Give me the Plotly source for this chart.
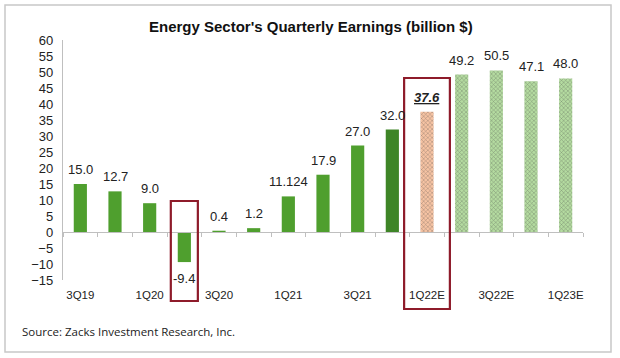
import plotly.graph_objects as go

quarters = ["3Q19", "4Q19", "1Q20", "2Q20", "3Q20", "4Q20", "1Q21", "2Q21", "3Q21",
            "4Q21", "1Q22E", "2Q22E", "3Q22E", "4Q22E", "1Q23E"]
earnings = [15.0, 12.7, 9.0, -9.4, 0.4, 1.2, 11.124, 17.9, 27.0, 32.0, 37.6, 49.2, 50.5, 47.1, 48.0]
value_labels = ["15.0", "12.7", "9.0", "-9.4", "0.4", "1.2", "11.124", "17.9", "27.0", "32.0",
                "<b><i><u>37.6</u></i></b>", "49.2", "50.5", "47.1", "48.0"]
shown_ticks = ["3Q19", "1Q20", "3Q20", "1Q21", "3Q21", "1Q22E", "3Q22E", "1Q23E"]
highlighted = ["2Q20", "1Q22E"]

colors, fg, shapes_p = [], [], []
for q in quarters:
    if q == "1Q22E":
        colors.append("#f6c3a3"); fg.append("#eea47a"); shapes_p.append("x")
    elif q.endswith("E"):
        colors.append("#b4dba0"); fg.append("#93c97b"); shapes_p.append("x")
    elif q == "4Q21":
        colors.append("#3e8527"); fg.append("#3e8527"); shapes_p.append("")
    else:
        colors.append("#4f9f2e"); fg.append("#4f9f2e"); shapes_p.append("")

fig = go.Figure()
fig.add_trace(go.Bar(
    x=quarters, y=earnings, width=0.38,
    marker=dict(color=colors, line=dict(width=0),
                pattern=dict(shape=shapes_p, fgcolor=fg, bgcolor=colors, size=3, solidity=0.3)),
    hoverinfo="skip",
))
# invisible trace for the zero-line axis
fig.add_trace(go.Scatter(x=quarters, y=[0] * len(quarters), xaxis="x2", mode="none",
                         hoverinfo="skip", showlegend=False))

annotations = []
for q, v, t in zip(quarters, earnings, value_labels):
    annotations.append(dict(
        x=q, y=v, text=t, showarrow=False, xref="x", yref="y",
        yanchor="bottom" if v >= 0 else "top",
        yshift=5 if v >= 0 else -7,
        font=dict(family="Arial", size=13, color="#222222"),
    ))

annotations.append(dict(
    text="<b>Energy Sector's Quarterly Earnings (billion $)</b>",
    xref="paper", yref="paper", x=(311 - 63) / 520, y=1 + (40 - 27) / 240,
    xanchor="center", yanchor="middle", showarrow=False,
    font=dict(family="Arial", size=15, color="#111111"),
))
annotations.append(dict(
    text="Source: Zacks Investment Research, Inc.",
    xref="paper", yref="paper", x=(20 - 63) / 520, y=-(331 - 280) / 240,
    xanchor="left", yanchor="middle", showarrow=False,
    font=dict(family="Open Sans", size=11.5, color="#222222"),
))

n = len(quarters)
shapes = [dict(type="rect", xref="paper", yref="paper",
               x0=(5 - 63) / 520, x1=(611 - 63) / 520,
               y0=-(352 - 280) / 240, y1=1 + (40 - 5) / 240,
               line=dict(color="#c8c8c8", width=1.5), layer="below")]
box_specs = {"2Q20": (0.39, 201, 301), "1Q22E": (0.66, 78, 309)}
for q in highlighted:
    i = quarters.index(q)
    hw, top, bot = box_specs[q]
    shapes.append(dict(type="rect", xref="paper", yref="paper",
                       x0=(i + 0.5 - hw) / n, x1=(i + 0.5 + hw) / n,
                       y0=(280 - bot) / 240, y1=(280 - top) / 240,
                       line=dict(color="#8e1b2a", width=2.2)))

fig.update_layout(
    width=620, height=358,
    margin=dict(l=63, r=37, t=40, b=78, autoexpand=False),
    paper_bgcolor="white", plot_bgcolor="white",
    showlegend=False, bargap=0.62, hovermode=False,
    annotations=annotations, shapes=shapes,
    xaxis=dict(type="category", categoryorder="array", categoryarray=quarters,
               range=[-0.5, n - 0.5], tickvals=shown_ticks, ticks="",
               showline=False, showgrid=False, zeroline=False, automargin=False,
               tickfont=dict(family="Arial", size=11.5, color="#222222"),
               ticklabelstandoff=6),
    xaxis2=dict(type="category", categoryorder="array", categoryarray=quarters,
                overlaying="x", anchor="free", position=15 / 75, automargin=False,
                range=[-0.5, n - 0.5], showline=True, linecolor="#bfbfbf", linewidth=1.2,
                ticks="outside", tickson="boundaries", ticklen=4, tickcolor="#bfbfbf",
                showticklabels=False, showgrid=False, zeroline=False),
    yaxis=dict(range=[-15, 60], dtick=5, tick0=0, showline=True, linecolor="#bfbfbf",
               linewidth=1.2, showgrid=False, zeroline=False, ticks="", automargin=False,
               tickfont=dict(family="Arial", size=13, color="#222222"),
               ticklabelstandoff=6),
)

fig.write_html("out.html", config={"displayModeBar": False, "staticPlot": True},
               post_script="document.body.style.margin='0';document.body.style.overflow='hidden';")
